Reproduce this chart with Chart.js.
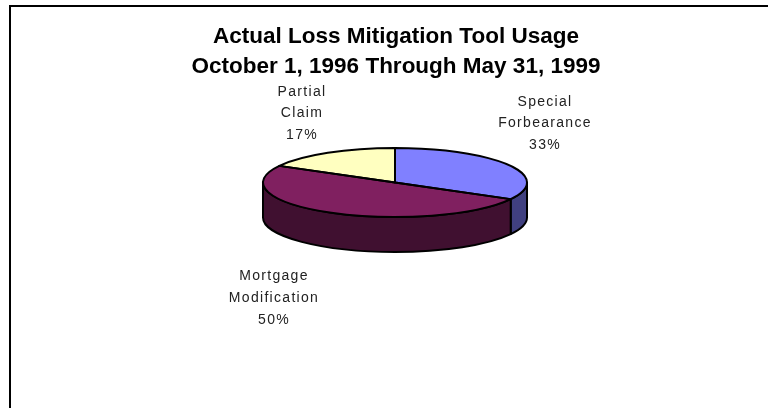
<!DOCTYPE html>
<html><head><meta charset="utf-8">
<style>html,body{margin:0;padding:0;background:#fff}canvas{display:block}#w{width:768px;height:408px}</style>
<script src="https://cdn.jsdelivr.net/npm/chart.js@4"></script>
</head><body><div id="w"><canvas id="c" width="768" height="408"></canvas></div>
<script>
const titleLines = ['Actual Loss Mitigation Tool Usage', 'October 1, 1996 Through May 31, 1999'];
const categories = [['Special', 'Forbearance'], ['Mortgage', 'Modification'], ['Partial', 'Claim']];
const values = [33, 50, 17];
const topColors = ['#8080FF', '#802060', '#FFFFC0'];
const sideColors = ['#404080', '#401030', '#808060'];

const PIE = {cx: 395, cy: 182.5, squash: 34.5 / 132, depth: 35};
const labelOffsets = [[150, -59], [-121, 115.5], [-93, -69]];

function geom(chart) {
  return chart.getDatasetMeta(0).data.map(a => {
    const p = a.getProps(['startAngle', 'endAngle', 'outerRadius', 'x', 'y'], true);
    return {s: p.startAngle, e: p.endAngle, rx: p.outerRadius, ry: p.outerRadius * PIE.squash, x: p.x, y: p.y};
  });
}
const pie3d = {
  id: 'pie3d',
  beforeDraw(chart) {
    const ctx = chart.ctx;
    ctx.save();
    ctx.strokeStyle = '#000';
    ctx.lineWidth = 2;
    ctx.beginPath();
    ctx.moveTo(10, 408);
    ctx.lineTo(10, 6);
    ctx.lineTo(768, 6);
    ctx.stroke();
    ctx.restore();
  },
  beforeDatasetsDraw(chart) {
    const ctx = chart.ctx;
    ctx.save();
    ctx.lineWidth = 2;
    ctx.strokeStyle = '#000';
    ctx.lineJoin = 'round';
    geom(chart).forEach((g, i) => {
      const s = Math.max(g.s, 0), e = Math.min(g.e, Math.PI);
      if (e <= s) return;
      ctx.beginPath();
      ctx.ellipse(PIE.cx, PIE.cy, g.rx, g.ry, 0, s, e);
      ctx.ellipse(PIE.cx, PIE.cy + PIE.depth, g.rx, g.ry, 0, e, s, true);
      ctx.closePath();
      ctx.fillStyle = sideColors[i];
      ctx.fill();
      ctx.stroke();
    });
    ctx.restore();
    const first = geom(chart)[0];
    ctx.save();
    ctx.translate(PIE.cx, PIE.cy);
    ctx.scale(1, PIE.squash);
    ctx.translate(-first.x, -first.y);
  },
  afterDatasetsDraw(chart) {
    const ctx = chart.ctx;
    ctx.restore();
    ctx.save();
    ctx.lineWidth = 2;
    ctx.strokeStyle = '#000';
    ctx.lineJoin = 'round';
    geom(chart).forEach(g => {
      ctx.beginPath();
      ctx.moveTo(PIE.cx, PIE.cy);
      ctx.ellipse(PIE.cx, PIE.cy, g.rx, g.ry, 0, g.s, g.e);
      ctx.closePath();
      ctx.stroke();
    });
    const total = values.reduce((a, b) => a + b, 0);
    ctx.fillStyle = '#222';
    ctx.font = '14px "Liberation Sans", Arial, sans-serif';
    ctx.letterSpacing = '1.3px';
    ctx.textAlign = 'center';
    ctx.textBaseline = 'middle';
    categories.forEach((lines, i) => {
      const all = lines.concat([Math.round(values[i] / total * 100) + '%']);
      const x = PIE.cx + labelOffsets[i][0], y = PIE.cy + labelOffsets[i][1];
      all.forEach((t, k) => ctx.fillText(t, x, y + (k - 1) * 21.7));
    });
    ctx.restore();
  }
};

new Chart(document.getElementById('c'), {
  type: 'pie',
  data: {
    labels: categories.map(c => c.join(' ')),
    datasets: [{data: values, backgroundColor: topColors, borderWidth: 0}]
  },
  options: {
    responsive: false,
    animation: false,
    layout: {padding: {left: 24, right: 0, top: 22, bottom: 62}},
    plugins: {
      legend: {display: false},
      tooltip: {enabled: false},
      title: {
        display: true,
        text: titleLines,
        color: '#000',
        font: {family: '"Liberation Sans", Arial, sans-serif', size: 22.5, weight: 'bold', lineHeight: 1.3333},
        padding: {top: 0, bottom: 0}
      }
    }
  },
  plugins: [pie3d]
});
</script></body></html>
